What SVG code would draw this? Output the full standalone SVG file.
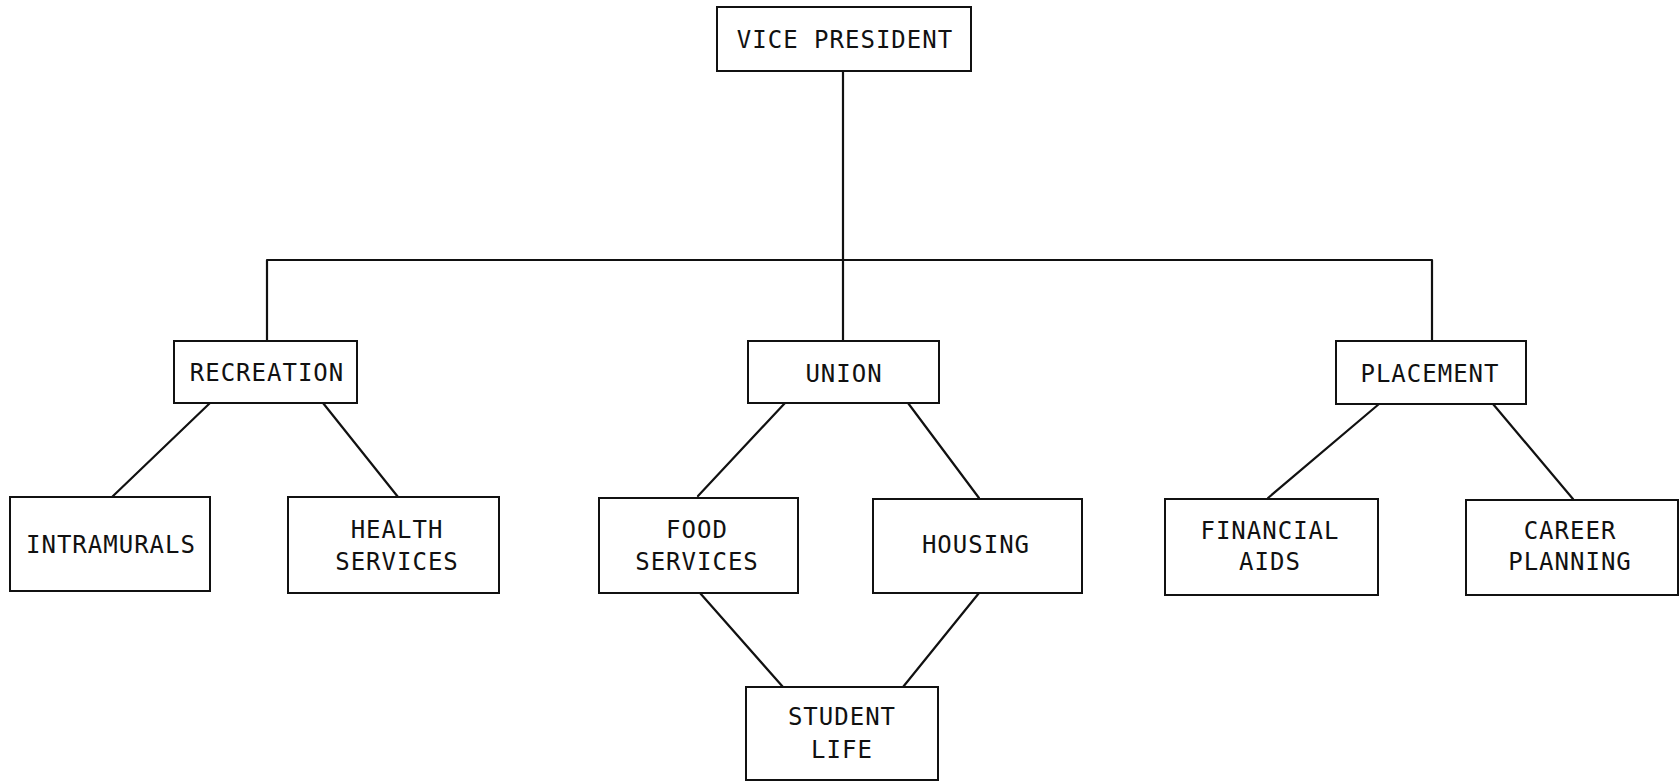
<svg xmlns="http://www.w3.org/2000/svg" width="1680" height="782" viewBox="0 0 1680 782">
  <style>
    .box { fill: #fff; stroke: #111; stroke-width: 2; }
    .lbl { font-family: "DejaVu Sans Mono", "Liberation Mono", monospace; font-size: 24px; letter-spacing: 1px; fill: #111; text-anchor: middle; }
    .wire { fill: none; stroke: #111; stroke-width: 2.2; stroke-linecap: round; stroke-linejoin: round; }
  </style>
  <rect x="0" y="0" width="1680" height="782" fill="#fff"/>

  <!-- reporting lines -->
  <g id="connectors">
    <path class="wire" d="M843 71 V341"/>
    <path class="wire" d="M267 341 V260 H1432 V341"/>
    <path class="wire" d="M210 403 L112 497"/>
    <path class="wire" d="M323 403 L398 497"/>
    <path class="wire" d="M785 403 L698 496"/>
    <path class="wire" d="M908 403 L979 498"/>
    <path class="wire" d="M700 593 L783 687"/>
    <path class="wire" d="M979 593 L903 687"/>
    <path class="wire" d="M1379 404 L1268 498"/>
    <path class="wire" d="M1493 404 L1573 499"/>
  </g>

  <g id="vice-president">
    <rect class="box" x="717" y="7" width="254" height="64"/>
    <text class="lbl" x="845" y="48">VICE PRESIDENT</text>
  </g>

  <g id="recreation">
    <rect class="box" x="174" y="341" width="183" height="62"/>
    <text class="lbl" x="267" y="381">RECREATION</text>
  </g>

  <g id="union">
    <rect class="box" x="748" y="341" width="191" height="62"/>
    <text class="lbl" x="844" y="382">UNION</text>
  </g>

  <g id="placement">
    <rect class="box" x="1336" y="341" width="190" height="63"/>
    <text class="lbl" x="1430" y="382">PLACEMENT</text>
  </g>

  <g id="intramurals">
    <rect class="box" x="10" y="497" width="200" height="94"/>
    <text class="lbl" x="111" y="553">INTRAMURALS</text>
  </g>

  <g id="health-services">
    <rect class="box" x="288" y="497" width="211" height="96"/>
    <text class="lbl" x="397" y="538">HEALTH</text>
    <text class="lbl" x="397" y="570">SERVICES</text>
  </g>

  <g id="food-services">
    <rect class="box" x="599" y="498" width="199" height="95"/>
    <text class="lbl" x="697" y="538">FOOD</text>
    <text class="lbl" x="697" y="570">SERVICES</text>
  </g>

  <g id="housing">
    <rect class="box" x="873" y="499" width="209" height="94"/>
    <text class="lbl" x="976" y="553">HOUSING</text>
  </g>

  <g id="financial-aids">
    <rect class="box" x="1165" y="499" width="213" height="96"/>
    <text class="lbl" x="1270" y="539">FINANCIAL</text>
    <text class="lbl" x="1270" y="570">AIDS</text>
  </g>

  <g id="career-planning">
    <rect class="box" x="1466" y="500" width="212" height="95"/>
    <text class="lbl" x="1570" y="539">CAREER</text>
    <text class="lbl" x="1570" y="570">PLANNING</text>
  </g>

  <g id="student-life">
    <rect class="box" x="746" y="687" width="192" height="93"/>
    <text class="lbl" x="842" y="725">STUDENT</text>
    <text class="lbl" x="842" y="758">LIFE</text>
  </g>
</svg>
